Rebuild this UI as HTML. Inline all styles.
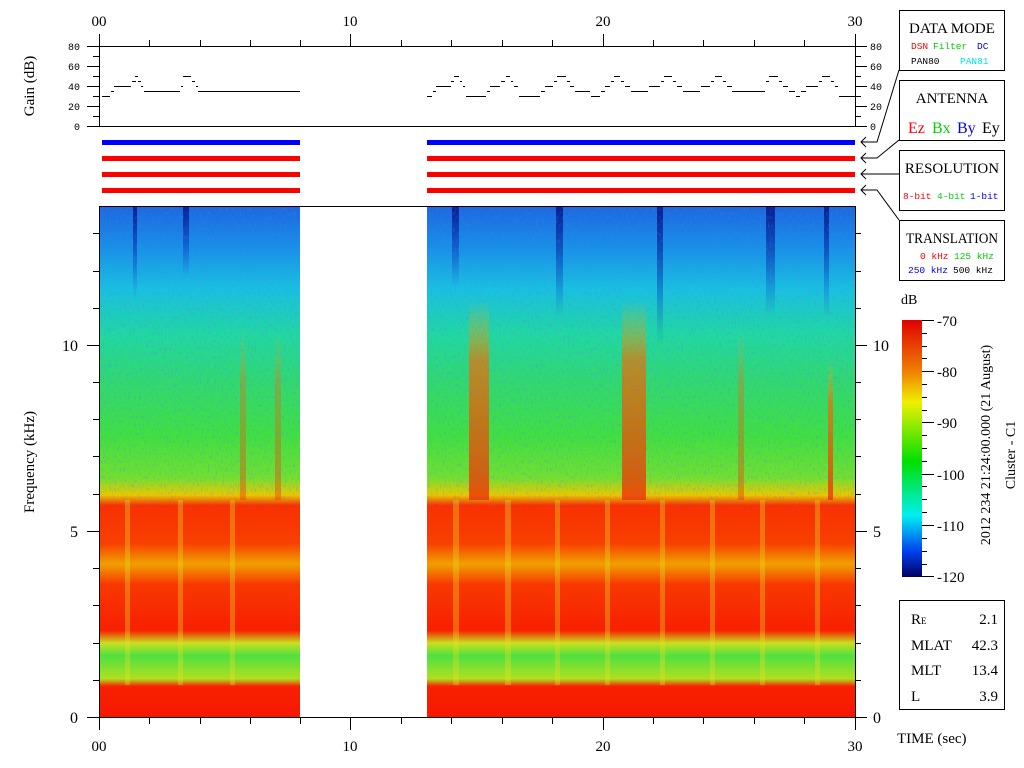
<!DOCTYPE html>
<html><head><meta charset="utf-8"><style>
html,body{margin:0;padding:0;background:#fff;}
svg{display:block}
text{font-family:"Liberation Serif",serif;}
.m text{font-family:"Liberation Mono",monospace;}
</style></head><body>
<svg width="1024" height="768" viewBox="0 0 1024 768" xmlns="http://www.w3.org/2000/svg">
<defs>
<linearGradient id="sp" x1="0" y1="207" x2="0" y2="717" gradientUnits="userSpaceOnUse">
<stop offset="0" stop-color="#1c68e0"/>
<stop offset="0.08" stop-color="#1890e8"/>
<stop offset="0.16" stop-color="#18c0e0"/>
<stop offset="0.25" stop-color="#20d8a0"/>
<stop offset="0.34" stop-color="#30d870"/>
<stop offset="0.45" stop-color="#40e040"/>
<stop offset="0.53" stop-color="#70e030"/>
<stop offset="0.565" stop-color="#e8c800"/>
<stop offset="0.585" stop-color="#f83000"/>
<stop offset="0.66" stop-color="#f84000"/>
<stop offset="0.70" stop-color="#f0a000"/>
<stop offset="0.74" stop-color="#f83800"/>
<stop offset="0.83" stop-color="#f82000"/>
<stop offset="0.855" stop-color="#c8e020"/>
<stop offset="0.88" stop-color="#50e040"/>
<stop offset="0.925" stop-color="#b0e020"/>
<stop offset="0.94" stop-color="#f82000"/>
<stop offset="1" stop-color="#f81800"/>
</linearGradient>
<linearGradient id="dk" x1="0" y1="0" x2="0" y2="1">
<stop offset="0" stop-color="#001080" stop-opacity="0.8"/>
<stop offset="1" stop-color="#0020c0" stop-opacity="0"/>
</linearGradient>
<linearGradient id="or" x1="0" y1="0" x2="0" y2="1">
<stop offset="0" stop-color="#f0c000" stop-opacity="0"/>
<stop offset="0.3" stop-color="#f07000" stop-opacity="0.7"/>
<stop offset="1" stop-color="#f03000" stop-opacity="0.8"/>
</linearGradient>
<linearGradient id="cb" x1="0" y1="0" x2="0" y2="1">
<stop offset="0" stop-color="#e00000"/>
<stop offset="0.2" stop-color="#f08000"/>
<stop offset="0.32" stop-color="#f0f000"/>
<stop offset="0.55" stop-color="#00e000"/>
<stop offset="0.76" stop-color="#00f0f0"/>
<stop offset="0.9" stop-color="#0040f0"/>
<stop offset="1" stop-color="#000060"/>
</linearGradient>
<filter id="nz" x="0" y="0" width="100%" height="100%">
<feTurbulence type="fractalNoise" baseFrequency="0.6 0.25" numOctaves="2" seed="3"/>
<feColorMatrix type="matrix" values="0 0 0 0 0.1  0 0 0 0 0.2  0 0 0 0 0.9  0 0 0 1.2 -0.65"/>
</filter>
</defs>

<g font-size="15" text-anchor="middle">
<text x="99" y="26">00</text><text x="350" y="26">10</text><text x="603" y="26">20</text><text x="855" y="26">30</text>
<text x="99" y="751">00</text><text x="350" y="751">10</text><text x="603" y="751">20</text><text x="855" y="751">30</text>
</g>
<g stroke="#000" stroke-width="1" fill="none">
<rect x="99.5" y="46.5" width="756" height="80"/>
<path d="M99.5 34V46 M149.5 40V46 M200.5 40V46 M250.5 40V46 M300.5 40V46 M350.5 34V46 M401.5 40V46 M451.5 40V46 M502.5 40V46 M552.5 40V46 M603.5 34V46 M653.5 40V46 M703.5 40V46 M754.5 40V46 M804.5 40V46 M855.5 34V46"/>
<path d="M87 46.5H99 M93 56.5H99 M87 66.5H99 M93 76.5H99 M87 86.5H99 M93 96.5H99 M87 106.5H99 M93 116.5H99 M87 126.5H99"/>
<path d="M855 46.5H867 M855 56.5H861 M855 66.5H867 M855 76.5H861 M855 86.5H867 M855 96.5H861 M855 106.5H867 M855 116.5H861 M855 126.5H867"/>
</g>
<g class="m" font-size="10">
<text x="80" y="50" text-anchor="end">80</text><text x="80" y="70" text-anchor="end">60</text><text x="80" y="90" text-anchor="end">40</text><text x="80" y="110" text-anchor="end">20</text><text x="80" y="130" text-anchor="end">0</text>
<text x="870" y="50">80</text><text x="870" y="70">60</text><text x="870" y="90">40</text><text x="870" y="110">20</text><text x="870" y="130">0</text>
</g>
<text x="34" y="86" font-size="15" text-anchor="middle" transform="rotate(-90 34 86)">Gain (dB)</text>
<g stroke="#000" stroke-width="1" fill="none">
<path d="M102 96.5H110 M111 91.5H114 M114 86.5H131 M132 81.5H136 M135 76.5H138 M138 81.5H141 M141 86.5H143 M144 91.5H180 M181 86.5H183 M183 76.5H191 M192 81.5H195 M196 86.5H198 M198 91.5H300"/>
<path d="M427 96.5H432 M433 91.5H436 M436 86.5H451 M451 81.5H454 M454 76.5H459 M460 81.5H462 M463 86.5H465 M466 96.5H486 M487 91.5H490 M490 86.5H500 M501 81.5H505 M506 76.5H510 M511 81.5H513 M514 86.5H518 M519 96.5H540 M541 91.5H545 M545 86.5H553 M554 81.5H557 M557 76.5H566 M567 81.5H570 M570 86.5H574 M575 91.5H590 M591 96.5H600 M601 91.5H605 M605 86.5H610 M611 81.5H614 M614 76.5H620 M621 81.5H624 M625 86.5H630 M631 91.5H648 M649 86.5H660 M661 81.5H664 M664 76.5H672 M673 81.5H676 M677 86.5H682 M683 91.5H700 M701 86.5H710 M711 81.5H714 M715 76.5H722 M723 81.5H726 M727 86.5H732 M732 91.5H765 M766 81.5H769 M769 76.5H778 M779 81.5H782 M783 86.5H788 M789 91.5H795 M796 96.5H800 M801 91.5H806 M806 86.5H818 M819 81.5H822 M822 76.5H830 M831 81.5H834 M835 86.5H838 M839 96.5H855"/>
</g>
<g>
<rect x="102" y="140" width="198" height="5" fill="#0000ff"/>
<rect x="427" y="140" width="428" height="5" fill="#0000ff"/>
<rect x="102" y="156" width="198" height="5" fill="#ff0000"/>
<rect x="427" y="156" width="428" height="5" fill="#ff0000"/>
<rect x="102" y="172" width="198" height="5" fill="#ff0000"/>
<rect x="427" y="172" width="428" height="5" fill="#ff0000"/>
<rect x="102" y="188" width="198" height="5" fill="#ff0000"/>
<rect x="427" y="188" width="428" height="5" fill="#ff0000"/>
</g>
<rect x="100" y="207" width="200" height="510" fill="url(#sp)"/>
<rect x="427" y="207" width="428" height="510" fill="url(#sp)"/>
<g>
<rect x="133" y="207" width="4" height="90" fill="url(#dk)"/>
<rect x="183" y="207" width="6" height="70" fill="url(#dk)"/>
<rect x="452" y="207" width="7" height="80" fill="url(#dk)"/>
<rect x="556" y="207" width="7" height="110" fill="url(#dk)"/>
<rect x="657" y="207" width="6" height="140" fill="url(#dk)"/>
<rect x="766" y="207" width="9" height="110" fill="url(#dk)"/>
<rect x="824" y="207" width="5" height="110" fill="url(#dk)"/>
<rect x="469" y="300" width="20" height="200" fill="url(#or)"/>
<rect x="622" y="300" width="24" height="200" fill="url(#or)"/>
<rect x="738" y="330" width="6" height="170" fill="url(#or)" opacity="0.5"/>
<rect x="240" y="330" width="6" height="170" fill="url(#or)" opacity="0.5"/>
<rect x="275" y="330" width="6" height="170" fill="url(#or)" opacity="0.5"/>
<rect x="828" y="360" width="5" height="140" fill="url(#or)"/>
<g fill="#e8e020" opacity="0.35">
<rect x="453" y="500" width="6" height="185"/><rect x="505" y="500" width="6" height="185"/><rect x="555" y="500" width="5" height="185"/><rect x="605" y="500" width="5" height="185"/><rect x="660" y="500" width="5" height="185"/><rect x="710" y="500" width="5" height="185"/><rect x="760" y="500" width="5" height="185"/><rect x="815" y="500" width="5" height="185"/>
<rect x="125" y="500" width="5" height="185"/><rect x="178" y="500" width="5" height="185"/><rect x="230" y="500" width="5" height="185"/>
</g>
<rect x="100" y="207" width="200" height="300" filter="url(#nz)"/>
<rect x="427" y="207" width="428" height="300" filter="url(#nz)"/>
</g>
<g stroke="#000" fill="none">
<rect x="99.5" y="206.5" width="756" height="511"/>
<path d="M87 717.5H99 M93 680.5H99 M93 643.5H99 M93 605.5H99 M93 568.5H99 M87 531.5H99 M93 494.5H99 M93 456.5H99 M93 419.5H99 M93 382.5H99 M87 345.5H99 M93 308.5H99 M93 271.5H99 M93 233.5H99"/>
<path d="M855 717.5H867 M855 680.5H861 M855 643.5H861 M855 605.5H861 M855 568.5H861 M855 531.5H867 M855 494.5H861 M855 456.5H861 M855 419.5H861 M855 382.5H861 M855 345.5H867 M855 308.5H861 M855 271.5H861 M855 233.5H861"/>
<path d="M99.5 718V730 M149.5 718V724 M200.5 718V724 M250.5 718V724 M300.5 718V724 M350.5 718V730 M401.5 718V724 M451.5 718V724 M502.5 718V724 M552.5 718V724 M603.5 718V730 M653.5 718V724 M703.5 718V724 M754.5 718V724 M804.5 718V724 M855.5 718V730"/>
</g>
<g font-size="16">
<text x="78" y="723" text-anchor="end">0</text><text x="78" y="537" text-anchor="end">5</text><text x="78" y="351" text-anchor="end">10</text>
<text x="873" y="723">0</text><text x="873" y="537">5</text><text x="873" y="351">10</text>
</g>
<text x="34" y="462" font-size="15" text-anchor="middle" transform="rotate(-90 34 462)">Frequency (kHz)</text>
<g stroke="#000" fill="none">
<rect x="899.5" y="10.5" width="105" height="60"/>
<rect x="899.5" y="80.5" width="105" height="60"/>
<rect x="899.5" y="150.5" width="105" height="60"/>
<rect x="899.5" y="220.5" width="105" height="60"/>
<path d="M899 70 L877 142 H861 M866 137 L861 142 L866 147"/>
<path d="M899 140 L877 158 H861 M866 153 L861 158 L866 163"/>
<path d="M899 174 H861 M866 169 L861 174 L866 179"/>
<path d="M899 220 L877 190 H861 M866 185 L861 190 L866 195"/>
</g>
<g font-size="15" text-anchor="middle">
<text x="952" y="33">DATA MODE</text>
<text x="952" y="103">ANTENNA</text>
<text x="952" y="173">RESOLUTION</text>
<text x="952" y="243" textLength="92" lengthAdjust="spacingAndGlyphs">TRANSLATION</text>
</g>
<g class="m" font-size="9.5">
<text x="911" y="49" fill="#ff0000">DSN</text><text x="933" y="49" fill="#00d000">Filter</text><text x="977" y="49" fill="#0000ff">DC</text>
<text x="911" y="64" fill="#000">PAN80</text><text x="960" y="64" fill="#00e0e0">PAN81</text>
<text x="903" y="199" fill="#ff0000">8-bit</text><text x="937" y="199" fill="#00d000">4-bit</text><text x="970" y="199" fill="#0000ff">1-bit</text>
<text x="920" y="259" fill="#ff0000">0 kHz</text><text x="954" y="259" fill="#00d000">125 kHz</text>
<text x="908" y="273" fill="#0000ff">250 kHz</text><text x="953" y="273" fill="#000">500 kHz</text>
</g>
<g font-size="16">
<text x="908" y="133" fill="#ff0000">Ez</text><text x="932" y="133" fill="#00d000">Bx</text><text x="957" y="133" fill="#0000ff">By</text><text x="982" y="133" fill="#000">Ey</text>
</g>
<text x="901" y="304" font-size="14">dB</text>
<rect x="902" y="320" width="20" height="257" fill="url(#cb)"/>
<g stroke="#000" fill="none">
<path d="M922 320.5H934 M922 333.5H927 M922 346.5H927 M922 358.5H927 M922 371.5H934 M922 384.5H927 M922 397.5H927 M922 410.5H927 M922 422.5H934 M922 435.5H927 M922 448.5H927 M922 461.5H927 M922 474.5H934 M922 486.5H927 M922 499.5H927 M922 512.5H927 M922 525.5H934 M922 538.5H927 M922 551.5H927 M922 564.5H927 M922 576.5H934"/>
</g>
<g font-size="15">
<text x="937" y="326">-70</text><text x="937" y="377">-80</text><text x="937" y="428">-90</text><text x="937" y="480">-100</text><text x="937" y="531">-110</text><text x="937" y="582">-120</text>
</g>
<text x="990" y="445" font-size="14" text-anchor="middle" transform="rotate(-90 990 445)">2012 234 21:24:00.000 (21 August)</text>
<text x="1015" y="455" font-size="14" text-anchor="middle" transform="rotate(-90 1015 455)">Cluster - C1</text>
<rect x="899.5" y="600.5" width="105" height="109" fill="none" stroke="#000"/>
<g font-size="15">
<text x="911" y="624">R<tspan font-size="9">E</tspan></text><text x="998" y="624" text-anchor="end">2.1</text>
<text x="911" y="650">MLAT</text><text x="998" y="650" text-anchor="end">42.3</text>
<text x="911" y="675">MLT</text><text x="998" y="675" text-anchor="end">13.4</text>
<text x="911" y="701">L</text><text x="998" y="701" text-anchor="end">3.9</text>
<text x="897" y="743">TIME (sec)</text>
</g>
</svg>
</body></html>
